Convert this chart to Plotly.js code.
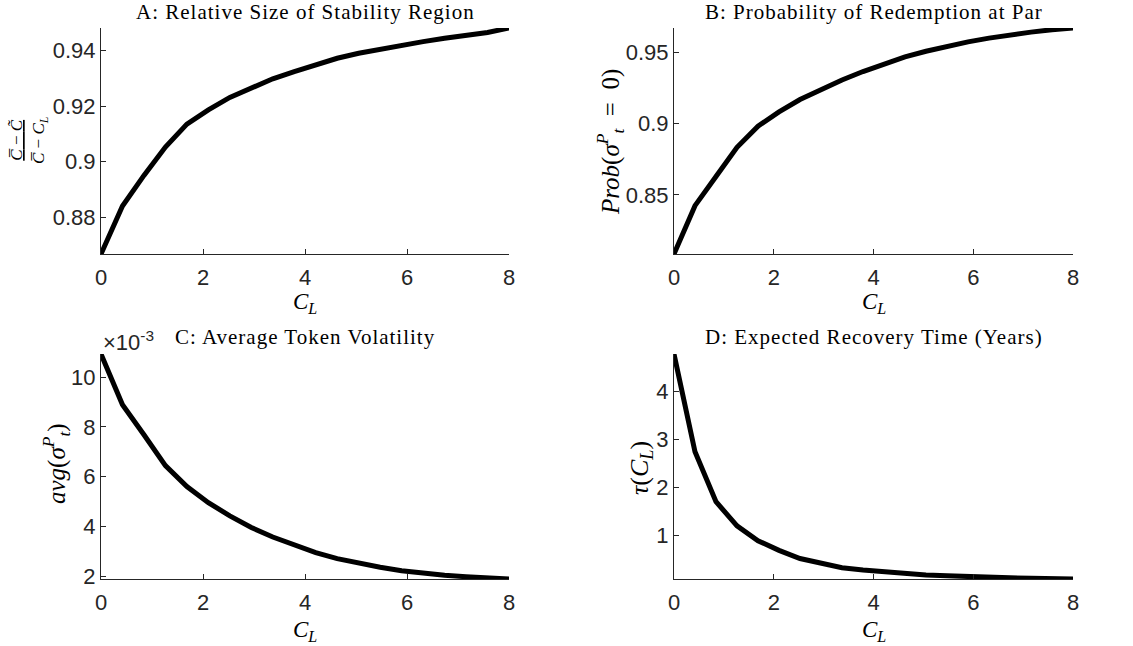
<!DOCTYPE html>
<html>
<head>
<meta charset="utf-8">
<script src="https://cdn.plot.ly/plotly-3.0.1.min.js"></script>
<style>html,body{margin:0;padding:0;background:#fff;}#plot{width:1133px;height:646px;}</style>
</head>
<body>
<div id="plot"></div>
<script>
// ---- data ----
var xCL = [0,0.4211,0.8421,1.2632,1.6842,2.1053,2.5263,2.9474,3.3684,3.7895,4.2105,4.6316,5.0526,5.4737,5.8947,6.3158,6.7368,7.1579,7.5789,8];
var relSize = [0.8667,0.8840,0.8950,0.9052,0.9135,0.9186,0.9231,0.9265,0.9298,0.9324,0.9350,0.9372,0.9390,0.9405,0.9419,0.9432,0.9444,0.9455,0.9465,0.9481];
var probPar = [0.8086,0.8425,0.8629,0.8834,0.8982,0.9082,0.9169,0.9240,0.9306,0.9365,0.9419,0.9467,0.9507,0.9542,0.9573,0.9599,0.9622,0.9641,0.9658,0.9670];
var avgVol = [0.01093,0.00889,0.00768,0.00644,0.00560,0.00495,0.00442,0.00395,0.00357,0.00323,0.00294,0.00270,0.00250,0.00235,0.00221,0.00211,0.00203,0.00197,0.00192,0.00188];
var recTime = [4.77,2.74,1.70,1.20,0.89,0.69,0.52,0.42,0.33,0.28,0.24,0.20,0.18,0.16,0.14,0.13,0.12,0.11,0.10,0.095];

var xTickVals = [0,2,4,6,8];
var xTickText = ['0','2','4','6','8'];
var yTickValsA = [0.88,0.90,0.92,0.94];
var yTickTextA = ['0.88','0.9','0.92','0.94'];
var yTickValsB = [0.85,0.90,0.95];
var yTickTextB = ['0.85','0.9','0.95'];
var yTickValsC = [0.002,0.004,0.006,0.008,0.010];
var yTickTextC = ['2','4','6','8','10'];
var yTickValsD = [1,2,3,4];
var yTickTextD = ['1','2','3','4'];

var titles = ['A: Relative Size of Stability Region','B: Probability of Redemption at Par','C: Average Token Volatility','D: Expected Recovery Time (Years)'];

// ---- layout helpers ----
var W = 1133, H = 646;
function px(x){return x/W;}
function py(y){return 1 - y/H;}
var axCol = '#262626';
var sans = '"Liberation Sans", Arial, sans-serif';
var tickFont = {family:sans, size:22, color:axCol};
var serif = '"Liberation Serif", "Times New Roman", serif';

function xa(dom, anchor){
  return {domain:dom, anchor:anchor, range:[0,8], tickvals:xTickVals, ticktext:xTickText,
    showline:true, linecolor:axCol, linewidth:1, ticks:'inside', ticklen:5, tickcolor:axCol,
    showgrid:false, zeroline:false, tickfont:tickFont, mirror:false, fixedrange:true, ticklabelstandoff:4};
}
function ya(dom, anchor, vals, txt, arr){
  var mn = Math.min.apply(null, arr), mx = Math.max.apply(null, arr);
  return {domain:dom, anchor:anchor, range:[mn, mx], tickvals:vals, ticktext:txt,
    showline:true, linecolor:axCol, linewidth:1, ticks:'inside', ticklen:5, tickcolor:axCol,
    showgrid:false, zeroline:false, tickfont:tickFont, mirror:false, fixedrange:true};
}

var lineStyle = {color:'#000000', width:5};
var data = [
  {x:xCL, y:relSize, type:'scatter', mode:'lines', line:lineStyle, xaxis:'x', yaxis:'y'},
  {x:xCL, y:probPar, type:'scatter', mode:'lines', line:lineStyle, xaxis:'x2', yaxis:'y2'},
  {x:xCL, y:avgVol, type:'scatter', mode:'lines', line:lineStyle, xaxis:'x3', yaxis:'y3'},
  {x:xCL, y:recTime, type:'scatter', mode:'lines', line:lineStyle, xaxis:'x4', yaxis:'y4'}
];

var leftDom = [px(101), px(509)], rightDom = [px(674), px(1073)];
var topDom = [py(254), py(28)], botDom = [py(579), py(354)];

function ann(text, x, y, size, fam, extra){
  var a = {text:text, xref:'paper', yref:'paper', x:px(x), y:py(y), showarrow:false,
    xanchor:'center', yanchor:'middle', font:{family:fam, size:size, color:'#000'}};
  if (extra) for (var k in extra) a[k] = extra[k];
  return a;
}
function spaced(t){ return '<span style="letter-spacing:1px">' + t + '</span>'; }

var CL = '<i>C<sub>L</sub></i>';
var annotations = [
  ann(spaced(titles[0]), 305, 12, 21, serif),
  ann(spaced(titles[1]), 873.5, 12, 21, serif),
  ann(spaced(titles[2]), 305, 337, 21, serif),
  ann(spaced(titles[3]), 873.5, 337, 21, serif),
  ann(CL, 305, 303, 23, serif),
  ann(CL, 873.5, 303, 23, serif),
  ann(CL, 305, 631, 23, serif),
  ann(CL, 873.5, 631, 23, serif),
  ann('<u><i>C\u0305</i> \u2212 <i>C\u0303</i></u><br><i>C\u0305</i> \u2212 <i>C<sub>L</sub></i>', 29, 140, 17, serif, {textangle:-90}),
  ann('<i>Prob</i>(<i>\u03c3<sup>P</sup><sub>t</sub></i>  =  0)', 610, 142, 25, serif, {textangle:-90}),
  ann('<i>avg</i>(<i>\u03c3<sup>P</sup><sub>t</sub></i>)', 56, 464, 25, serif, {textangle:-90}),
  ann('<i>\u03c4</i>(<i>C<sub>L</sub></i>)', 641, 468, 26, serif, {textangle:-90}),
  ann('\u00d710<sup>-3</sup>', 101, 341, 22, sans, {xanchor:'left', font:{family:sans, size:22, color:axCol}})
];

var layout = {
  width:W, height:H, margin:{l:0,r:0,t:0,b:0}, paper_bgcolor:'#fff', plot_bgcolor:'#fff',
  font:{family:sans, size:22, color:axCol},
  showlegend:false,
  xaxis: xa(leftDom,'y'), yaxis: ya(topDom,'x', yTickValsA, yTickTextA, relSize),
  xaxis2: xa(rightDom,'y2'), yaxis2: ya(topDom,'x2', yTickValsB, yTickTextB, probPar),
  xaxis3: xa(leftDom,'y3'), yaxis3: ya(botDom,'x3', yTickValsC, yTickTextC, avgVol),
  xaxis4: xa(rightDom,'y4'), yaxis4: ya(botDom,'x4', yTickValsD, yTickTextD, recTime),
  annotations: annotations
};
Plotly.newPlot('plot', data, layout, {displayModeBar:false, staticPlot:true});
</script>
</body>
</html>
